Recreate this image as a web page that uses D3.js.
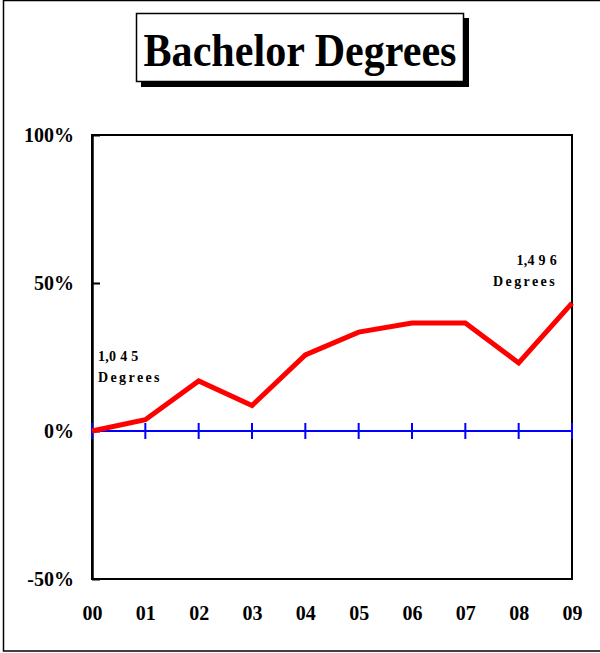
<!DOCTYPE html>
<html lang="en">

<head>
  <meta charset="utf-8">
  <title>Bachelor Degrees</title>
  <style>
    body {
      margin: 0;
      background-color: #fff;
    }

    svg text {
      font-family: 'Liberation Serif', 'Times New Roman', serif;
      font-weight: bold;
      fill: #000;
    }
  </style>
  <script src="https://cdn.jsdelivr.net/npm/d3@7" charset="utf-8"></script>
</head>

<body>
  <svg id="chart" width="600" height="653"></svg>

  <script type="text/javascript">
    // values: % change since 2000
    var years = ["00", "01", "02", "03", "04", "05", "06", "07", "08", "09"];
    var pctChange = [0, 3.8, 16.9, 8.6, 25.7, 33.4, 36.5, 36.5, 23.0, 43.2];
    var yTicks = [-50, 0, 50, 100];
    var startNote = ["1,0 4 5", "Degrees"];
    var endNote = ["1,4 9 6", "Degrees"];

    var svg = d3.select("#chart");

    // outer frame (right edge runs off the page)
    svg.append("rect")
      .attr("x", 3.5).attr("y", 0.5)
      .attr("width", 610).attr("height", 650.5)
      .attr("fill", "none").attr("stroke", "#000").attr("stroke-width", 1.5);

    // title with drop shadow
    svg.append("rect")
      .attr("x", 141).attr("y", 18).attr("width", 328).attr("height", 69)
      .attr("fill", "#000");
    svg.append("rect")
      .attr("x", 136.5).attr("y", 13.5).attr("width", 327).attr("height", 68)
      .attr("fill", "#fff").attr("stroke", "#000").attr("stroke-width", 1.5);
    svg.append("text")
      .attr("x", 300).attr("y", 66)
      .attr("text-anchor", "middle")
      .attr("font-size", 46)
      .attr("textLength", 313)
      .attr("lengthAdjust", "spacingAndGlyphs")
      .text("Bachelor Degrees");

    var x = d3.scalePoint().domain(years).range([92, 572]);
    var y = d3.scaleLinear().domain([-50, 100]).range([579, 135]);

    // plot frame
    svg.append("rect")
      .attr("x", 92).attr("y", 135)
      .attr("width", 572 - 92).attr("height", 579 - 135)
      .attr("fill", "none").attr("stroke", "#000").attr("stroke-width", 2);

    // y axis
    var yAxis = svg.append("g")
      .attr("transform", "translate(92,0)")
      .call(d3.axisLeft(y)
        .tickValues(yTicks)
        .tickFormat(function (d) { return d + "%"; })
        .tickSizeInner(-8)
        .tickSizeOuter(0)
        .tickPadding(18));
    yAxis.select(".domain").attr("stroke-width", 2.5);
    yAxis.selectAll(".tick line").attr("stroke-width", 2);
    yAxis.selectAll(".tick text")
      .attr("font-size", 20)
      .attr("font-family", "'Liberation Serif', serif")
      .attr("font-weight", "bold")
      .attr("dy", "0.34em");

    // x axis labels
    var xAxis = svg.append("g")
      .attr("transform", "translate(0,579)")
      .call(d3.axisBottom(x).tickSize(0).tickPadding(27));
    xAxis.select(".domain").remove();
    xAxis.selectAll(".tick text")
      .attr("font-size", 20)
      .attr("font-family", "'Liberation Serif', serif")
      .attr("font-weight", "bold");

    // zero line with crossing ticks
    svg.append("line")
      .attr("x1", x(years[0])).attr("x2", x(years[years.length - 1]))
      .attr("y1", y(0)).attr("y2", y(0))
      .attr("stroke", "#0000ff").attr("stroke-width", 2);
    svg.selectAll(".zt")
      .data(years)
      .enter().append("line")
      .attr("class", "zt")
      .attr("x1", function (d) { return x(d); })
      .attr("x2", function (d) { return x(d); })
      .attr("y1", y(0) - 8).attr("y2", y(0) + 8)
      .attr("stroke", "#0000ff").attr("stroke-width", 2);

    // red series
    var line = d3.line()
      .x(function (d, i) { return x(years[i]); })
      .y(function (d) { return y(d); });
    svg.append("path")
      .datum(pctChange)
      .attr("d", line)
      .attr("fill", "none")
      .attr("stroke", "#ff0000")
      .attr("stroke-width", 5)
      .attr("stroke-linejoin", "miter");

    // notes
    function note(lines, xPos, yPos, anchor) {
      var t = svg.append("text")
        .attr("x", xPos).attr("y", yPos)
        .attr("text-anchor", anchor)
        .attr("font-size", 14);
      t.append("tspan").attr("x", xPos).attr("letter-spacing", 0.3).text(lines[0]);
      t.append("tspan").attr("x", xPos).attr("dy", 21).attr("letter-spacing", 2.4).text(lines[1]);
    }
    note(startNote, 98, 361, "start");
    note(endNote, 557, 265, "end");
  </script>
</body>

</html>
